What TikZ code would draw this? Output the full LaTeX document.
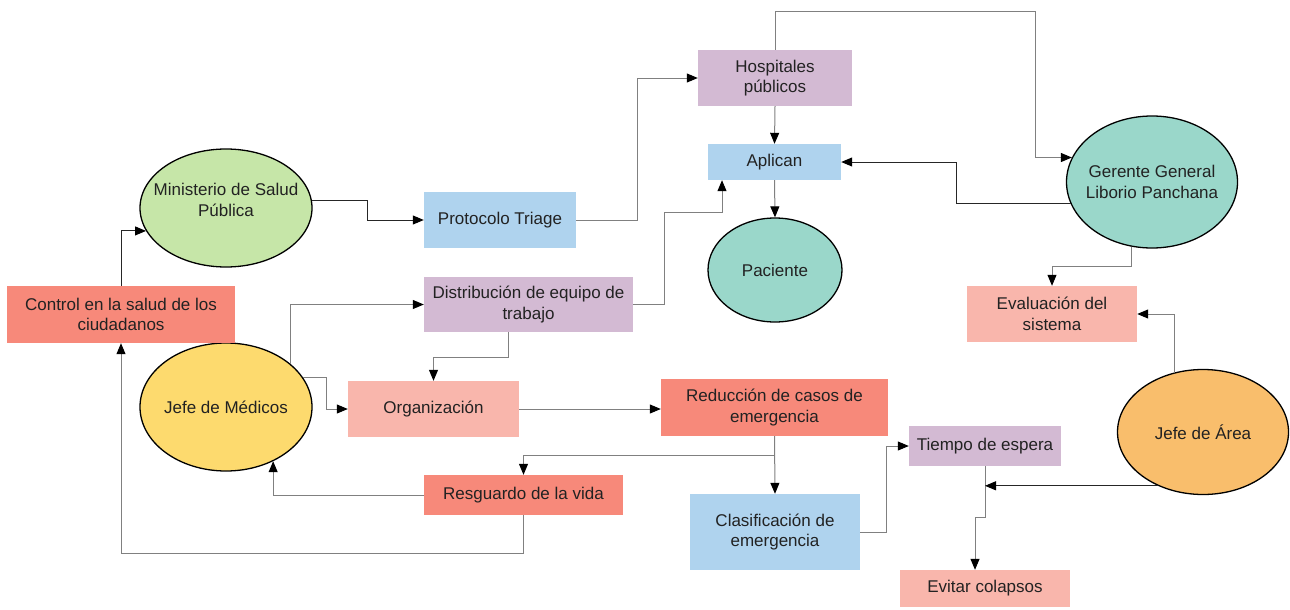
\documentclass[tikz,border=0pt]{standalone}
\usepackage{fontspec}
\setmainfont{Liberation Sans}
\usetikzlibrary{shapes.geometric,arrows.meta}

\definecolor{cSalmon}{HTML}{F7897A}
\definecolor{cPink}{HTML}{F9B6AC}
\definecolor{cBlue}{HTML}{AFD3EE}
\definecolor{cLilac}{HTML}{D3BAD3}
\definecolor{cGreen}{HTML}{C6E6A8}
\definecolor{cYellow}{HTML}{FDDA6E}
\definecolor{cTeal}{HTML}{9AD7CA}
\definecolor{cOrange}{HTML}{F9BE6C}
\definecolor{cText}{HTML}{222222}
\definecolor{cLine}{HTML}{808080}

\tikzset{
  txt/.style={align=center, text=cText, font=\fontsize{17}{20.5}\selectfont},
  box/.style={rectangle, inner sep=2pt, txt},
  oval/.style={ellipse, draw=black, line width=1.3pt, inner sep=0pt},
  ovaltext/.style={label={[txt]center:{#1}}},
  ovaltextup/.style={label={[txt, yshift=8pt]center:{#1}}},
  conn/.style={draw=cLine, line width=1pt,
    -{Triangle[length=11pt,width=9pt,color=black]}},
  darkconn/.style={conn, draw=black!85},
}

\begin{document}
\begin{tikzpicture}[x=1pt,y=-1pt]
\useasboundingbox[fill=white] (0,0) rectangle (1290,610);

% ellipses (text set as a centred label so the outline keeps its size)
\node[oval, fill=cGreen, minimum width=172pt, minimum height=118pt,
  ovaltextup={Ministerio de Salud\\Pública}] (min) at (226,208) {};
\node[oval, fill=cYellow, minimum width=172pt, minimum height=128pt,
  ovaltext={Jefe de Médicos}] (jmed) at (226,407) {};
\node[oval, fill=cTeal, minimum width=134pt, minimum height=104pt,
  ovaltext={Paciente}] (pac) at (775,270) {};
\node[oval, fill=cTeal, minimum width=171pt, minimum height=132pt,
  ovaltext={Gerente General\\Liborio Panchana}] (ger) at (1152,182) {};
\node[oval, fill=cOrange, minimum width=171pt, minimum height=125pt,
  ovaltext={Jefe de Área}] (jarea) at (1203,432) {};

% boxes
\node[box, fill=cSalmon, minimum width=228pt, minimum height=57pt] (ctrl) at (121,314.5) {Control en la salud de los\\ciudadanos};
\node[box, fill=cBlue, minimum width=152pt, minimum height=56pt] (prot) at (500,220) {Protocolo Triage};
\node[box, fill=cLilac, minimum width=209pt, minimum height=55pt] (dist) at (528.5,304.5) {Distribución de equipo de\\trabajo};
\node[box, fill=cLilac, minimum width=154pt, minimum height=56pt] (hosp) at (775,78) {Hospitales\\públicos};
\node[box, fill=cBlue, minimum width=133pt, minimum height=36pt] (apl) at (774.5,162) {Aplican};
\node[box, fill=cPink, minimum width=170pt, minimum height=56pt] (eval) at (1052,314) {Evaluación del\\sistema};
\node[box, fill=cPink, minimum width=171pt, minimum height=56pt] (org) at (433.5,409) {Organización};
\node[box, fill=cSalmon, minimum width=227pt, minimum height=57pt] (red) at (774.5,407.5) {Reducción de casos de\\emergencia};
\node[box, fill=cSalmon, minimum width=199pt, minimum height=40pt] (resg) at (523.5,495) {Resguardo de la vida};
\node[box, fill=cLilac, minimum width=152pt, minimum height=40pt] (tiempo) at (985,446) {Tiempo de espera};
\node[box, fill=cBlue, minimum width=170pt, minimum height=76pt] (clas) at (775,532) {Clasificación de\\emergencia};
\node[box, fill=cPink, minimum width=170pt, minimum height=37pt] (evit) at (985,588.5) {Evitar colapsos};

% helper points for routed connectors
\coordinate (da) at (722,212);
\coordinate (gt) at (1035,12);

% connectors
\draw[darkconn] (ctrl.north) |- (min.196);
\draw[darkconn] (min.5) -- ++(56,0) |- (prot.west);
\draw[conn] (prot.east) -- ++(61,0) |- (hosp.west);
\draw[conn] (hosp.south) -- (apl.north);
\draw[conn] (apl.south) -- (pac.north);
\draw[conn] (dist.east) -- ++(31,0) |- (da) -- (da |- apl.south);
\draw[conn] (hosp.north) |- (gt) |- (ger.163);
\draw[darkconn] (ger.195) -- ++(-114,0) |- (apl.east);
\draw[conn] (ger.252) -- ++(0,20) -| (eval.north);
\draw[conn] (jarea.116) |- (eval.east);
\draw[conn] (tiempo.south) -- ++(0,51) -- ++(-10,0) -- ([xshift=-10pt]evit.north);
\draw[darkconn] (jarea.230) -- (jarea.230 -| tiempo.south);
\draw[conn] (org.east) -- (org.east -| red.west);
\draw[conn] (red.south) -- (clas.north);
\draw[conn] (red.south) -- ++(0,19) -| (resg.north);
\draw[conn] (resg.west) -| (jmed.311);
\draw[conn] (resg.south) -- ++(0,38) -| (ctrl.south);
\draw[conn] (jmed.34) |- (dist.west);
\draw[conn] (jmed.21) -- ++(23,0) |- (org.west);
\draw[conn] ([xshift=-20pt]dist.south) -- ++(0,25) -| (org.north);
\draw[conn] (clas.east) -- ++(26,0) |- (tiempo.west);
\end{tikzpicture}
\end{document}
